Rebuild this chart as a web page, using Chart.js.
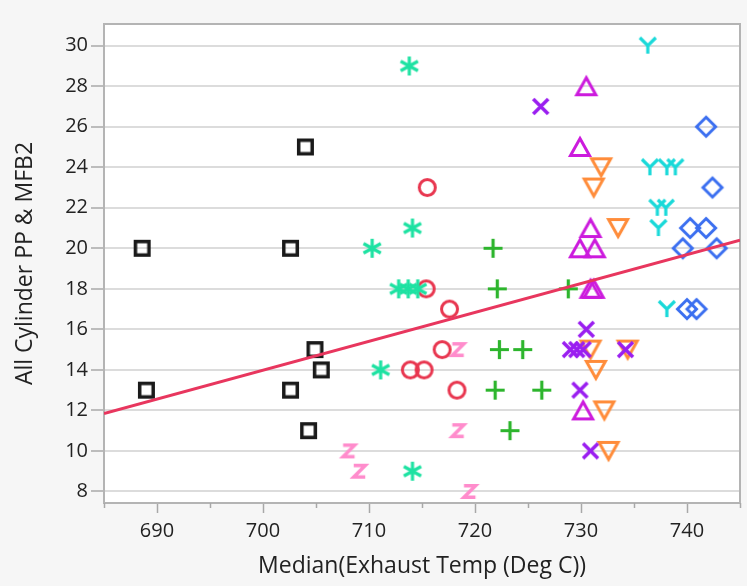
<!DOCTYPE html>
<html><head><meta charset="utf-8">
<script src="https://cdn.jsdelivr.net/npm/chart.js@4"></script>
<style>html,body{margin:0;padding:0;background:#f6f6f6;}canvas{display:block}</style>
</head><body>
<canvas id="c" width="747" height="586"></canvas>
<script>
// ---- data ----
const xTitle = 'Median(Exhaust Temp (Deg C))';
const yTitle = 'All Cylinder PP & MFB2';

const squareX = [688.6, 689.0, 704.0, 702.6, 704.9, 705.5, 702.6, 704.3];
const squareY = [20, 13, 25, 20, 15, 14, 13, 11];

const starX = [713.8, 714.1, 710.3, 712.8, 713.7, 714.6, 711.1, 714.1];
const starY = [29, 21, 20, 18, 18, 18, 14, 9];

const circleX = [715.5, 715.4, 717.6, 716.9, 713.9, 715.2, 718.3];
const circleY = [23, 18, 17, 15, 14, 14, 13];

const zX = [718.4, 718.4, 708.1, 709.1, 719.5];
const zY = [15, 11, 10, 9, 8];

const plusX = [721.7, 722.1, 728.8, 722.3, 724.5, 721.9, 726.3, 723.3];
const plusY = [20, 18, 18, 15, 15, 13, 13, 11];

const crossX = [726.2, 730.5, 729.0, 729.6, 730.2, 734.2, 729.9, 730.9];
const crossY = [27, 16, 15, 15, 15, 15, 13, 10];

const triUpX = [730.5, 729.9, 730.9, 729.9, 731.3, 730.9, 731.2, 730.2];
const triUpY = [28, 25, 21, 20, 20, 18, 18, 12];

const triDownX = [731.9, 731.2, 733.5, 730.9, 734.4, 731.4, 732.2, 732.6];
const triDownY = [24, 23, 21, 15, 15, 14, 12, 10];

const yMarkX = [736.3, 736.5, 738.1, 738.9, 737.2, 738.0, 737.3, 738.1];
const yMarkY = [30, 24, 24, 24, 22, 22, 21, 17];

const diamondX = [741.8, 742.4, 740.3, 741.8, 739.6, 742.8, 740.0, 740.9];
const diamondY = [26, 23, 21, 21, 20, 20, 17, 17];

const fitX = [685, 745];
const fitY = [11.85, 20.4];

const xMin = 685, xMax = 745, yMin = 7.43, yMax = 31.07;

// ---- marker glyphs ----
function marker(kind, color, w, h, lw) {
  const pad = Math.ceil(lw) + 2;
  const cv = document.createElement('canvas');
  cv.width = Math.round(w + 2 * pad); cv.height = Math.round(h + 2 * pad);
  const g = cv.getContext('2d');
  g.strokeStyle = color; g.lineWidth = lw; g.lineJoin = 'miter'; g.lineCap = 'butt';
  const cx = cv.width / 2, cy = cv.height / 2;
  const hw = (w - lw) / 2, hh = (h - lw) / 2;
  const W = w / 2, H = h / 2;
  g.beginPath();
  switch (kind) {
    case 'square': g.rect(cx - hw, cy - hh, 2 * hw, 2 * hh); break;
    case 'circle': g.arc(cx, cy, hw, 0, Math.PI * 2); break;
    case 'triUp': g.moveTo(cx, cy - hh); g.lineTo(cx + hw, cy + hh); g.lineTo(cx - hw, cy + hh); g.closePath(); break;
    case 'triDown': g.moveTo(cx, cy + hh); g.lineTo(cx + hw, cy - hh); g.lineTo(cx - hw, cy - hh); g.closePath(); break;
    case 'diamond': g.moveTo(cx, cy - hh); g.lineTo(cx + hw, cy); g.lineTo(cx, cy + hh); g.lineTo(cx - hw, cy); g.closePath(); break;
    case 'plus': g.moveTo(cx - W, cy); g.lineTo(cx + W, cy); g.moveTo(cx, cy - H); g.lineTo(cx, cy + H); break;
    case 'x': g.moveTo(cx - W, cy - H); g.lineTo(cx + W, cy + H); g.moveTo(cx + W, cy - H); g.lineTo(cx - W, cy + H); break;
    case 'star':
      g.moveTo(cx, cy - H); g.lineTo(cx, cy + H);
      for (const a of [Math.PI / 6, -Math.PI / 6]) {
        g.moveTo(cx - W * Math.cos(a), cy - H * Math.sin(a)); g.lineTo(cx + W * Math.cos(a), cy + H * Math.sin(a));
      }
      break;
    case 'z': g.moveTo(cx - hw, cy - hh); g.lineTo(cx + hw, cy - hh); g.lineTo(cx - hw, cy + hh); g.lineTo(cx + hw, cy + hh); break;
    case 'y': g.moveTo(cx - W, cy - H); g.lineTo(cx, cy); g.lineTo(cx + W, cy - H); g.moveTo(cx, cy); g.lineTo(cx, cy + H); break;
  }
  g.stroke();
  return cv;
}

const pts = (xs, ys) => xs.map((x, i) => ({ x, y: ys[i] }));
const scatter = (xs, ys, style) => ({
  type: 'scatter', data: pts(xs, ys), pointStyle: style, pointRadius: 6, pointHoverRadius: 6, order: 1
});

const FONT = 'Open Sans';
const TXT = '#222222';

const bgPlugin = {
  id: 'bg',
  beforeDraw(chart) {
    const { ctx, chartArea: a } = chart;
    ctx.save();
    ctx.fillStyle = '#f6f6f6'; ctx.fillRect(0, 0, chart.width, chart.height);
    ctx.fillStyle = '#ffffff'; ctx.fillRect(a.left, a.top, a.right - a.left, a.bottom - a.top);
    ctx.restore();
  },
  beforeDatasetsDraw(chart) {
    const { ctx, chartArea: a, scales } = chart;
    ctx.save();
    ctx.strokeStyle = '#b4b4b4'; ctx.lineWidth = 2;
    ctx.strokeRect(a.left, a.top, a.right - a.left, a.bottom - a.top);
    // minor x ticks
    ctx.strokeStyle = '#a8a8a8'; ctx.lineWidth = 1.5;
    const xs = scales.x;
    for (const t of xs.ticks) {
      if (t.value % 10 !== 0) {
        const px = Math.round(xs.getPixelForValue(t.value)) + 0.5;
        ctx.beginPath(); ctx.moveTo(px, a.bottom); ctx.lineTo(px, a.bottom + 5); ctx.stroke();
      }
    }
    ctx.restore();
  }
};

new Chart(document.getElementById('c'), {
  data: {
    datasets: [
      { type: 'line', data: pts(fitX, fitY), borderColor: '#e8365e', borderWidth: 3, pointRadius: 0, fill: false, order: 0 },
      scatter(squareX, squareY, marker('square', '#1a1a1a', 17, 17, 3.5)),
      scatter(starX, starY, marker('star', '#1de2a2', 20, 19, 3.2)),
      scatter(circleX, circleY, marker('circle', '#e8364f', 19, 19, 3)),
      scatter(zX, zY, marker('z', '#ff8ccc', 15, 15, 3.5)),
      scatter(plusX, plusY, marker('plus', '#2db52d', 19, 19, 3.2)),
      scatter(crossX, crossY, marker('x', '#9a1ef0', 15, 15, 3.5)),
      scatter(triUpX, triUpY, marker('triUp', '#cc1bdd', 22, 20, 3)),
      scatter(triDownX, triDownY, marker('triDown', '#ff8c3a', 22, 20, 3)),
      scatter(yMarkX, yMarkY, marker('y', '#19d9d9', 16, 16, 3.2)),
      scatter(diamondX, diamondY, marker('diamond', '#3a6ef0', 22, 22, 3))
    ]
  },
  options: {
    responsive: false,
    animation: false,
    devicePixelRatio: 1,
    layout: { padding: { top: 24, right: 3, bottom: 0, left: 0 } },
    plugins: { legend: { display: false }, tooltip: { enabled: false } },
    scales: {
      x: {
        type: 'linear', position: 'bottom', min: xMin, max: xMax,
        ticks: {
          stepSize: 5, includeBounds: false, autoSkip: false, maxRotation: 0, padding: 6,
          color: TXT, font: { family: FONT, size: 20 },
          callback: v => (v % 10 === 0 ? String(v) : '')
        },
        grid: {
          drawOnChartArea: false, drawTicks: true, tickLength: 10, tickWidth: 1.5,
          tickColor: c => (c.tick && c.tick.value % 10 === 0 ? '#a8a8a8' : 'rgba(0,0,0,0)')
        },
        border: { display: false },
        title: { display: true, text: xTitle, color: TXT, font: { family: FONT, size: 23 }, padding: { top: 0, bottom: 6 } },
        afterFit: s => { s.height = 83; }
      },
      y: {
        type: 'linear', position: 'left', min: yMin, max: yMax,
        ticks: { stepSize: 2, includeBounds: false, padding: 3, color: TXT, font: { family: FONT, size: 20 } },
        grid: { color: '#dcdcdc', lineWidth: 2, tickLength: 13, tickColor: '#a8a8a8', tickWidth: 1.5 },
        border: { display: false },
        title: { display: true, text: yTitle, color: TXT, font: { family: FONT, size: 23 }, padding: { top: 12, bottom: 0 } },
        afterFit: s => { s.width = 104; }
      }
    }
  },
  plugins: [bgPlugin]
});
</script>
</body></html>
